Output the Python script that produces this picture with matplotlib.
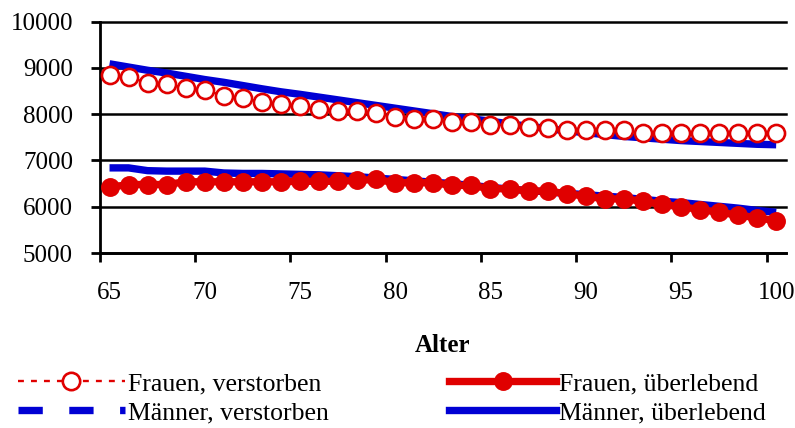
import numpy as np
import matplotlib
matplotlib.use("Agg")
import matplotlib.pyplot as plt
from matplotlib.lines import Line2D

plt.rcParams['font.family'] = ['Liberation Serif', 'DejaVu Serif']

# ---- data -------------------------------------------------------------
ages = list(range(65, 101))

frauen_verstorben = [8850, 8800, 8680, 8650, 8570, 8520, 8400, 8340, 8270, 8220,
                     8180, 8110, 8070, 8070, 8020, 7950, 7900, 7890, 7840, 7840,
                     7770, 7770, 7720, 7710, 7660, 7660, 7660, 7660, 7590, 7600,
                     7600, 7600, 7600, 7600, 7600, 7600]

frauen_ueberlebend = [6420, 6480, 6480, 6480, 6540, 6540, 6540, 6540, 6540, 6540,
                      6550, 6550, 6550, 6570, 6590, 6520, 6520, 6520, 6460, 6460,
                      6390, 6390, 6340, 6340, 6280, 6230, 6170, 6170, 6120, 6050,
                      6000, 5940, 5880, 5820, 5760, 5700]

maenner_verstorben = [9090, 9020, 8950, 8890, 8820, 8750, 8690, 8620, 8550, 8485,
                      8430, 8370, 8310, 8250, 8190, 8130, 8070, 8010, 7950, 7900,
                      7850, 7790, 7740, 7690, 7640, 7600, 7560, 7520, 7490, 7460,
                      7430, 7410, 7390, 7370, 7350, 7340]

maenner_ueberlebend = [6840, 6840, 6780, 6770, 6770, 6770, 6730, 6720, 6720, 6710,
                       6700, 6690, 6670, 6650, 6620, 6590, 6560, 6530, 6500, 6460,
                       6420, 6380, 6350, 6320, 6290, 6260, 6230, 6200, 6160, 6120,
                       6090, 6050, 6010, 5970, 5920, 5880]

labels = ["Frauen, verstorben", "Männer, verstorben",
          "Frauen, überlebend", "Männer, überlebend"]
x_ticklabels = ["65", "70", "75", "80", "85", "90", "95", "100"]
y_ticks = [5000, 6000, 7000, 8000, 9000, 10000]

RED = '#E00000'
BLUE = '#0000D4'

# ---- figure -----------------------------------------------------------
fig = plt.figure(figsize=(7.95, 4.28), dpi=100)
ax = fig.add_axes([100 / 795, 1 - 253 / 428, 685.7 / 795, 231.3 / 428])

x = np.array(ages) + 0.5  # category centres

ax.plot(x, maenner_verstorben, color=BLUE, lw=5.3, solid_capstyle='butt', zorder=2)
ax.plot(x, maenner_ueberlebend, color=BLUE, lw=5.3, solid_capstyle='butt', zorder=2)
ax.plot(x, frauen_verstorben, color=RED, lw=1.7, linestyle=(0, (2.5, 3.0)),
        marker='o', ms=12.3, mfc='white', mec=RED, mew=1.9, zorder=3)
ax.plot(x, frauen_ueberlebend, color=RED, lw=5.3, solid_capstyle='butt',
        marker='o', ms=13.6, mfc=RED, mec=RED, mew=0, zorder=3)

ax.set_xlim(65, 101)
ax.set_ylim(5000, 10000)
ax.set_yticks(y_ticks)
ax.set_yticklabels([str(v) for v in y_ticks])

major_x = [int(t) for t in x_ticklabels]
ax.set_xticks(major_x)
ax.set_xticklabels([''] * len(major_x))
ax.set_xticks([m + 0.5 for m in major_x], minor=True)
ax.set_xticklabels(x_ticklabels, minor=True)

ax.tick_params(axis='y', which='major', direction='out', length=6.5, width=2,
               labelsize=18, pad=13, color='black')
ax.tick_params(axis='x', which='major', direction='out', length=6.5, width=2, color='black')
ax.tick_params(axis='x', which='minor', length=0, labelsize=18, pad=21)

ax.yaxis.grid(True, color='black', lw=1.8)
ax.set_axisbelow(True)
for gl in ax.get_ygridlines():
    gl.set_clip_on(False)

for s in ['top', 'right']:
    ax.spines[s].set_visible(False)
for s in ['left', 'bottom']:
    ax.spines[s].set_color('black')
    ax.spines[s].set_linewidth(2)

ax.set_xlabel("Alter", fontsize=18, fontweight='bold')
ax.xaxis.label.set_va('center')
ax.xaxis.set_label_coords(0.5, (253 - 346) / 231.3)

# ---- legend -----------------------------------------------------------
handles = [
    Line2D([], [], color=RED, lw=1.7, linestyle=(0, (2.5, 3.0)), marker='o',
           ms=12.5, mfc='white', mec=RED, mew=1.9),
    Line2D([], [], color=BLUE, lw=5.3, linestyle=(0, (3.3, 3.6))),
    Line2D([], [], color=RED, lw=5.3, marker='o', ms=13.6, mfc=RED, mec=RED, mew=0),
    Line2D([], [], color=BLUE, lw=5.3),
]
fig.legend(handles, labels, ncol=2, loc='upper left',
           bbox_to_anchor=(18 / 795, 1 - 372 / 428), frameon=False,
           fontsize=18.5, handlelength=4.15, handletextpad=0.12,
           columnspacing=4.7, labelspacing=0.24, borderpad=0, borderaxespad=0,
           numpoints=1)

fig.savefig("out.png", dpi=100)
